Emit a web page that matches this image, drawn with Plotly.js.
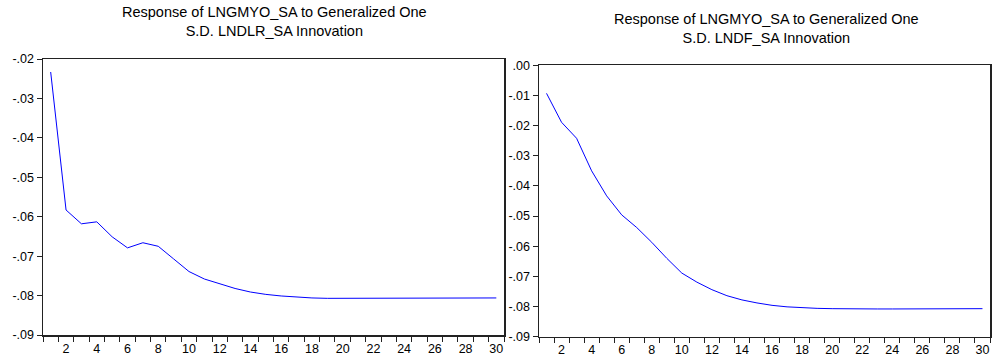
<!DOCTYPE html>
<html>
<head>
<meta charset="utf-8">
<script src="https://cdn.plot.ly/plotly-3.0.1.min.js"></script>
<style>
html,body{margin:0;padding:0;background:#fff;}
#chart{width:997px;height:364px;}
</style>
</head>
<body>
<div id="chart"></div>
<script>
// Periods
var periods = [1,2,3,4,5,6,7,8,9,10,11,12,13,14,15,16,17,18,19,20,21,22,23,24,25,26,27,28,29,30];

// Response of LNGMYO_SA to LNDLR_SA innovation
var respLNDLR = [-0.0233,-0.0583,-0.0618,-0.0613,-0.0651,-0.0679,-0.0666,-0.0675,-0.0707,-0.0739,
                 -0.0758,-0.0770,-0.0782,-0.0791,-0.0797,-0.0801,-0.0804,-0.0806,-0.0807,-0.0807,
                 -0.0807,-0.0807,-0.0807,-0.0807,-0.0807,-0.0806,-0.0806,-0.0806,-0.0806,-0.0806];

// Response of LNGMYO_SA to LNDF_SA innovation
var respLNDF = [-0.0093,-0.0189,-0.0242,-0.0350,-0.0433,-0.0496,-0.0538,-0.0587,-0.0640,-0.0689,
                -0.0719,-0.0744,-0.0764,-0.0778,-0.0788,-0.0796,-0.0801,-0.0804,-0.0806,-0.0807,
                -0.0808,-0.0808,-0.0808,-0.0808,-0.0808,-0.0807,-0.0807,-0.0807,-0.0807,-0.0807];

// Titles
var title1 = "Response of LNGMYO_SA to Generalized One<br>S.D. LNDLR_SA Innovation";
var title2 = "Response of LNGMYO_SA to Generalized One<br>S.D. LNDF_SA Innovation";

// Tick labels
var xLabelVals = [2,4,6,8,10,12,14,16,18,20,22,24,26,28,30];
var xLabelText = ["2","4","6","8","10","12","14","16","18","20","22","24","26","28","30"];
var xTickVals = [0.5,1.5,2.5,3.5,4.5,5.5,6.5,7.5,8.5,9.5,10.5,11.5,12.5,13.5,14.5,15.5,16.5,17.5,18.5,19.5,20.5,21.5,22.5,23.5,24.5,25.5,26.5,27.5,28.5,29.5,30.5];
var y1Vals = [-0.02,-0.03,-0.04,-0.05,-0.06,-0.07,-0.08,-0.09];
var y1Text = ["-.02","-.03","-.04","-.05","-.06","-.07","-.08","-.09"];
var y2Vals = [0,-0.01,-0.02,-0.03,-0.04,-0.05,-0.06,-0.07,-0.08,-0.09];
var y2Text = [".00","-.01","-.02","-.03","-.04","-.05","-.06","-.07","-.08","-.09"];

var W = 997, H = 364;
function fx(px){return px/W;}
function fy(px){return 1 - px/H;}

var font = {family:"Liberation Sans, Arial, sans-serif", size:12.5, color:"#000"};
var titleFont = {family:"Liberation Sans, Arial, sans-serif", size:14.5, color:"#000"};
var lineCol = "#222";

function xAxis(domain, anchor){
  return {
    domain: domain, anchor: anchor, range:[0.5,30.5],
    tickvals: xLabelVals, ticktext: xLabelText, ticks:"",
    minor:{tickvals:xTickVals, ticks:"outside", ticklen:5, tickcolor:lineCol, tickwidth:1},
    showgrid:false, zeroline:false, showline:true, mirror:true,
    linecolor:lineCol, linewidth:1.5, tickfont:font, ticklabelstandoff:1
  };
}
function yAxis(domain, anchor, range, vals, text){
  return {
    domain: domain, anchor: anchor, range: range,
    tickvals: vals, ticktext: text, ticks:"outside", ticklen:5,
    tickcolor:lineCol, tickwidth:1,
    showgrid:false, zeroline:false, showline:true, mirror:true,
    linecolor:lineCol, linewidth:1.5, tickfont:font
  };
}

var traces = [
  {x:periods, y:respLNDLR, type:"scatter", mode:"lines", line:{color:"#0000ff", width:1}, xaxis:"x", yaxis:"y", hoverinfo:"x+y"},
  {x:periods, y:respLNDF, type:"scatter", mode:"lines", line:{color:"#0000ff", width:1}, xaxis:"x2", yaxis:"y2", hoverinfo:"x+y"}
];

var layout = {
  width:W, height:H, margin:{l:0,r:0,t:0,b:0},
  paper_bgcolor:"#fff", plot_bgcolor:"#fff", showlegend:false,
  xaxis: xAxis([fx(43), fx(504)], "y"),
  yaxis: yAxis([fy(335), fy(59)], "x", [-0.09,-0.02], y1Vals, y1Text),
  xaxis2: xAxis([fx(539), fx(990)], "y2"),
  yaxis2: yAxis([fy(336.7), fy(65.3)], "x2", [-0.09,0], y2Vals, y2Text),
  annotations:[
    {text:title1, xref:"paper", yref:"paper", x:fx(274), y:fy(2), xanchor:"center", yanchor:"top", showarrow:false, font:titleFont},
    {text:title2, xref:"paper", yref:"paper", x:fx(766), y:fy(9), xanchor:"center", yanchor:"top", showarrow:false, font:titleFont}
  ]
};

Plotly.newPlot("chart", traces, layout, {displayModeBar:false, staticPlot:true});
</script>
</body>
</html>
